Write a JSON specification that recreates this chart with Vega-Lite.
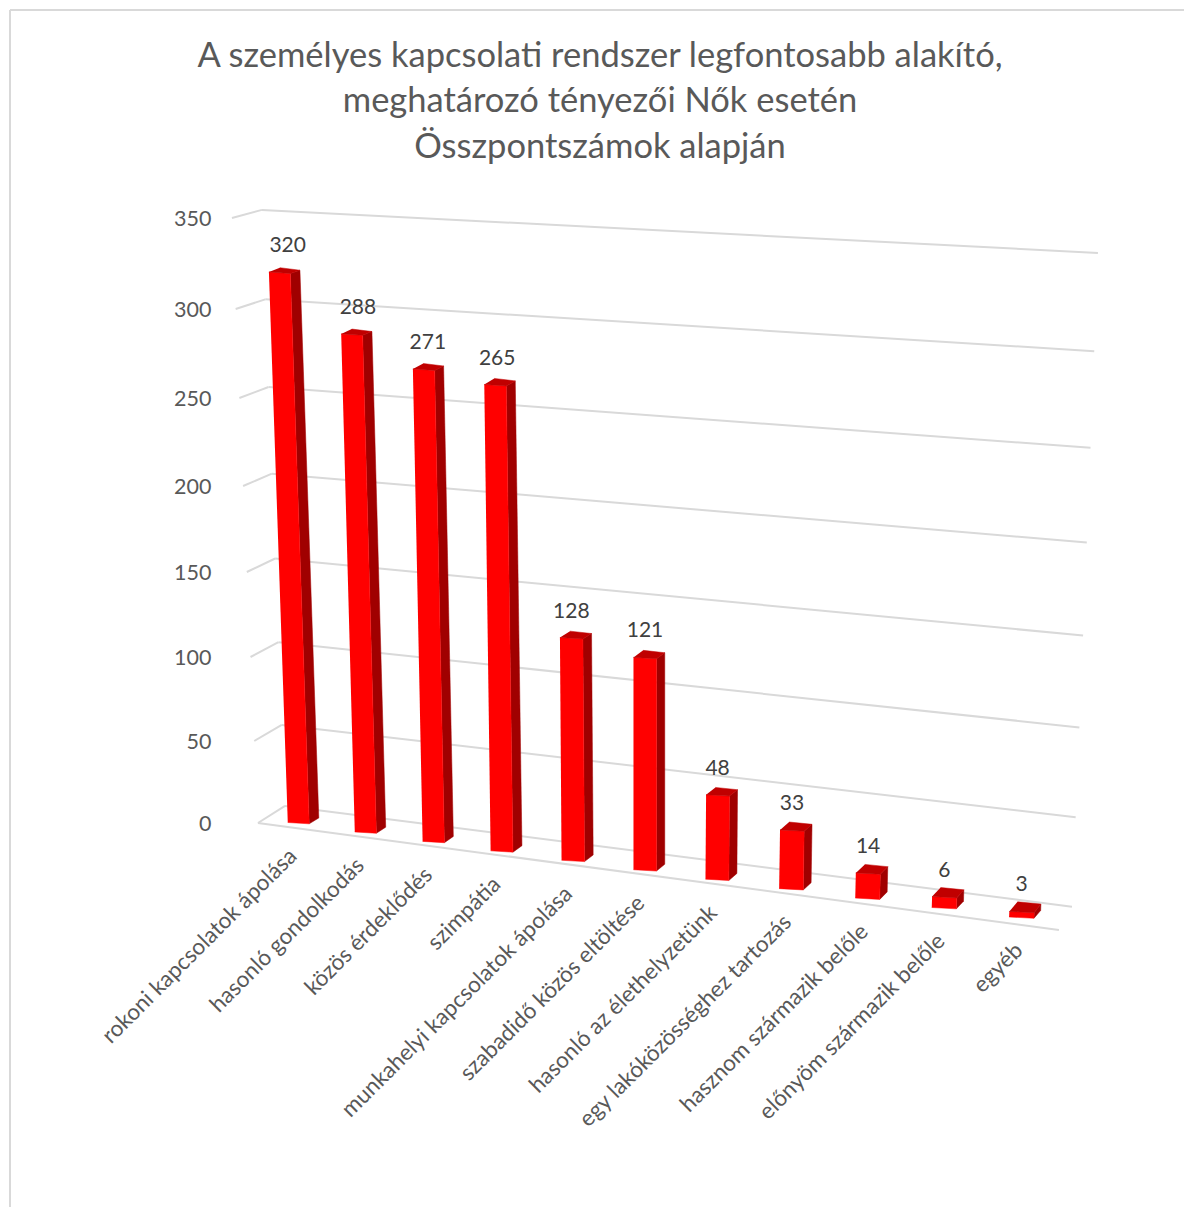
{
"$schema":"https://vega.github.io/schema/vega-lite/v6.json",
"width":1174,"height":1197,"autosize":"none","padding":{"left":10,"top":10,"right":0,"bottom":0},
"background":"white",
"view":{"stroke":null,"fill":null},
"title":{"text":["A személyes kapcsolati rendszer legfontosabb alakító,","meghatározó tényezői Nők esetén","Összpontszámok alapján"],"font":"Lato","fontSize":34.5,"fontWeight":"normal","color":"#595959","lineHeight":45.5,"anchor":"middle","frame":"group","dx":3,"dy":160,"baseline":"top"},
"datasets":{
"bars":[
{"category":"rokoni kapcsolatok ápolása","value":320,"rank":0},
{"category":"hasonló gondolkodás","value":288,"rank":1},
{"category":"közös érdeklődés","value":271,"rank":2},
{"category":"szimpátia","value":265,"rank":3},
{"category":"munkahelyi kapcsolatok ápolása","value":128,"rank":4},
{"category":"szabadidő közös eltöltése","value":121,"rank":5},
{"category":"hasonló az élethelyzetünk","value":48,"rank":6},
{"category":"egy lakóközösséghez tartozás","value":33,"rank":7},
{"category":"hasznom származik belőle","value":14,"rank":8},
{"category":"előnyöm származik belőle","value":6,"rank":9},
{"category":"egyéb","value":3,"rank":10}],
"grid":[{"level":0},{"level":50},{"level":100},{"level":150},{"level":200},{"level":250},{"level":300},{"level":350}]
},
"data":{"name":"bars"},
"transform":[
{"calculate":"datum.rank-0.000176*(5-datum.rank)*datum.value","as":"ut"},
{"calculate":"0.3-5.76*datum.rank","as":"yb"},
{"calculate":"datum.yb+datum.value*(1+0.012*datum.rank)","as":"yt"},
{"calculate":"0.143-0.0057*datum.rank","as":"sdx"},
{"calculate":"1.8+0.35*datum.rank","as":"sdt"},
{"calculate":"3.6+0.12*datum.rank","as":"sdb"}
],
"layer":[
{"data":{"name":"grid"},"transform":[
{"calculate":"-0.605-0.00111*datum.level","as":"u0"},
{"calculate":"-0.201-0.000983*datum.level","as":"u1"},
{"calculate":"10.4+0.983*datum.level","as":"y1"}],
"mark":{"type":"rule","color":"#d9d9d9","strokeWidth":2},
"encoding":{
"x":{"field":"u0","type":"quantitative","axis":null,"scale":{"domain":[-4.306,-2,0,1,2,3,4,5,6,7,8,9,10,12,12.083],"range":[0,154.5,288.5,355.5,423.5,491.5,563,635,707,781,857.5,934,1011.5,1167.5,1174],"zero":false,"nice":false}},
"x2":{"field":"u1"},
"y":{"field":"level","type":"quantitative","scale":{"domain":[-234,-200,0,50,100,150,200,250,300,350,450,464.3],"range":[1197,1141,813,731,647,562,476,388,299,208,26,0],"zero":false,"nice":false},
"axis":{"title":null,"orient":"left","offset":-201,"values":[0,50,100,150,200,250,300,350],"domain":false,"ticks":false,"grid":false,"labelPadding":0,"labelFont":"Lato","labelFontSize":21.5,"labelOffset":1,"labelColor":"#595959","encode":{"labels":{"update":{"dx":{"signal":"(350-datum.value)*24/350"}}}}}},
"y2":{"field":"y1"}}},
{"data":{"name":"grid"},"transform":[
{"calculate":"-0.201-0.000983*datum.level","as":"u1"},
{"calculate":"10.647+0.000951*datum.level","as":"u2"},
{"calculate":"10.4+0.983*datum.level","as":"y1"},
{"calculate":"-51+1.0909*datum.level","as":"y2"}],
"mark":{"type":"rule","color":"#d9d9d9","strokeWidth":2},
"encoding":{
"x":{"field":"u1","type":"quantitative","axis":null},"x2":{"field":"u2"},
"y":{"field":"y1","type":"quantitative"},"y2":{"field":"y2"}}},
{"data":{"name":"grid"},"transform":[
{"filter":"datum.level===0"},
{"calculate":"-0.605","as":"u0"},
{"calculate":"10.48","as":"u3"},
{"calculate":"-65.2","as":"y3"}],
"mark":{"type":"rule","color":"#d9d9d9","strokeWidth":2},
"encoding":{
"x":{"field":"u0","type":"quantitative","axis":null},"x2":{"field":"u3"},
"y":{"field":"level","type":"quantitative"},"y2":{"field":"y3"}}},
{"data":{"name":"grid"},"transform":[{"filter":"datum.level===0"}],
"mark":{"type":"rule","color":"#d9d9d9","strokeWidth":2},
"encoding":{
"x":{"datum":-4.306,"type":"quantitative","axis":null},
"y":{"datum":464.3,"type":"quantitative"},"y2":{"datum":-234}}},
{"data":{"name":"grid"},"transform":[{"filter":"datum.level===0"}],
"mark":{"type":"rule","color":"#d9d9d9","strokeWidth":2},
"encoding":{
"x":{"datum":-4.306,"type":"quantitative","axis":null},"x2":{"datum":12.083},
"y":{"datum":464.3,"type":"quantitative"}}},
{"transform":[
{"fold":["p1","p2","p3","p4"],"as":["corner","cornerValue"]},
{"calculate":"datum.corner==='p1'?datum.ut+0.16:datum.corner==='p2'?datum.ut+0.16+datum.sdx:datum.corner==='p3'?datum.rank+0.16+datum.sdx:datum.rank+0.16","as":"px"},
{"calculate":"datum.corner==='p1'?datum.yt-0.8:datum.corner==='p2'?datum.yt-0.8+datum.sdt:datum.corner==='p3'?datum.yb-0.8+datum.sdb:datum.yb-0.8","as":"py"}],
"mark":{"type":"line","fill":"#a00000","stroke":"#a00000","strokeWidth":0.5,"filled":true},
"encoding":{"x":{"field":"px","type":"quantitative","axis":null},"y":{"field":"py","type":"quantitative"},"detail":{"field":"category"},"order":{"field":"corner"}}},
{"transform":[
{"fold":["p1","p2","p3","p4"],"as":["corner","cornerValue"]},
{"calculate":"datum.corner==='p1'?datum.ut-0.16:datum.corner==='p2'?datum.ut+0.16:datum.corner==='p3'?datum.rank+0.16:datum.rank-0.16","as":"px"},
{"calculate":"datum.corner==='p1'?datum.yt:datum.corner==='p2'?datum.yt-0.8:datum.corner==='p3'?datum.yb-0.8:datum.yb","as":"py"}],
"mark":{"type":"line","fill":"#ff0000","stroke":"#ff0000","strokeWidth":0.5,"filled":true},
"encoding":{"x":{"field":"px","type":"quantitative","axis":null},"y":{"field":"py","type":"quantitative"},"detail":{"field":"category"},"order":{"field":"corner"}}},
{"transform":[
{"fold":["p1","p2","p3","p4"],"as":["corner","cornerValue"]},
{"calculate":"datum.corner==='p1'?datum.ut-0.16:datum.corner==='p2'?datum.ut+0.16:datum.corner==='p3'?datum.ut+0.16+datum.sdx:datum.ut-0.14+datum.sdx","as":"px"},
{"calculate":"datum.corner==='p1'?datum.yt:datum.corner==='p2'?datum.yt-0.8:datum.corner==='p3'?datum.yt-0.8+datum.sdt:datum.yt+datum.sdt+0.6","as":"py"}],
"mark":{"type":"line","fill":"#c00000","stroke":"#c00000","strokeWidth":0.5,"filled":true},
"encoding":{"x":{"field":"px","type":"quantitative","axis":null},"y":{"field":"py","type":"quantitative"},"detail":{"field":"category"},"order":{"field":"corner"}}},
{"transform":[{"calculate":"datum.ut+0.03*max(4-datum.rank,0)","as":"lx"}],
"mark":{"type":"text","font":"Lato","fontSize":21,"color":"#404040","dy":-26,"baseline":"middle","align":"center"},
"encoding":{"x":{"field":"lx","type":"quantitative","axis":null},"y":{"field":"yt","type":"quantitative"},"text":{"field":"value","type":"quantitative"}}},
{"transform":[{"calculate":"datum.rank-0.08+0.005*datum.rank","as":"cx"},{"calculate":"datum.yb-18.3","as":"cy"}],
"mark":{"type":"text","font":"Lato","fontSize":22.5,"color":"#595959","angle":315,"align":"right","baseline":"middle"},
"encoding":{"x":{"field":"cx","type":"quantitative","axis":null},"y":{"field":"cy","type":"quantitative"},"text":{"field":"category","type":"nominal"}}}
]
}
